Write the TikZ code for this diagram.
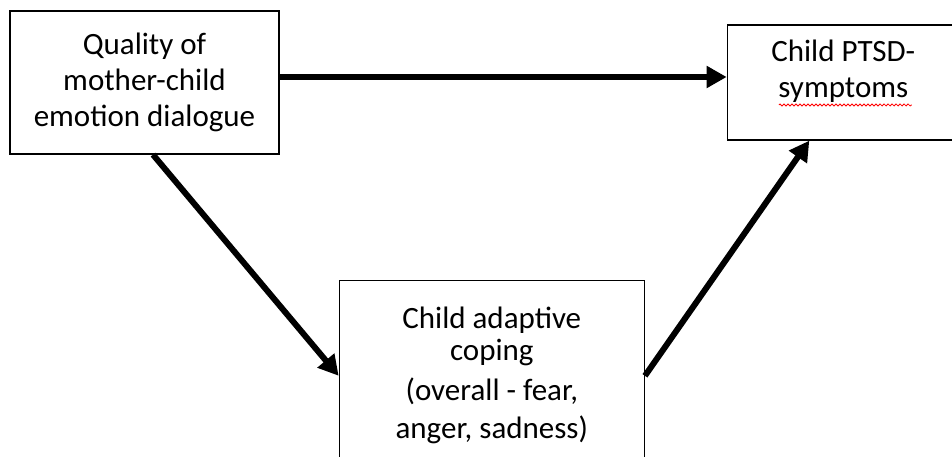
\documentclass[tikz,border=0pt]{standalone}
\usepackage{fontspec}
\setmainfont{Carlito}
\usetikzlibrary{positioning, arrows.meta, decorations.pathmorphing}

\tikzset{
  box/.style={draw, line width=1.3pt, align=center, inner sep=0pt,
    font=\fontsize{31pt}{36pt}\selectfont},
  link/.style={line width=6pt, -{Triangle[length=20pt,width=21pt]}},
  squiggle/.style={draw=red, line width=0.8pt, decorate,
    decoration={snake, amplitude=1pt, segment length=4pt}}
}

\begin{document}
\begin{tikzpicture}[x=1pt, y=-1pt]
      \useasboundingbox (0,0) rectangle (952,457);
      \clip (0,0) rectangle (952,457);
      \node [box, minimum width=269pt, minimum height=143pt] (quality) at (144.5,82.5) {Quality of\\ mother-child\\ emotion dialogue};
      \node [box, minimum width=232pt, minimum height=115pt, text depth=27pt, right=447pt of quality] (ptsd) {Child PTSD-\\ symptoms};
      \node [box, minimum width=305pt, minimum height=191pt, below right=125pt and 59pt of quality] (coping) {Child adaptive\\[-4pt] coping\\[4pt] (overall - fear,\\[2pt] anger, sadness)};
      \draw [squiggle] ([shift={(-64.5,22.5)}]ptsd.center) -- ([shift={(68.5,22.5)}]ptsd.center);
      \draw [link] ([yshift=5.5pt]quality.east) -- ([yshift=5.5pt]quality.east -| ptsd.west);
      \draw [link] ([xshift=8.5pt]quality.south) -- (coping.west);
      \draw [link] (coping.east) -- ([xshift=-34pt]ptsd.south);
    \end{tikzpicture}
\end{document}
